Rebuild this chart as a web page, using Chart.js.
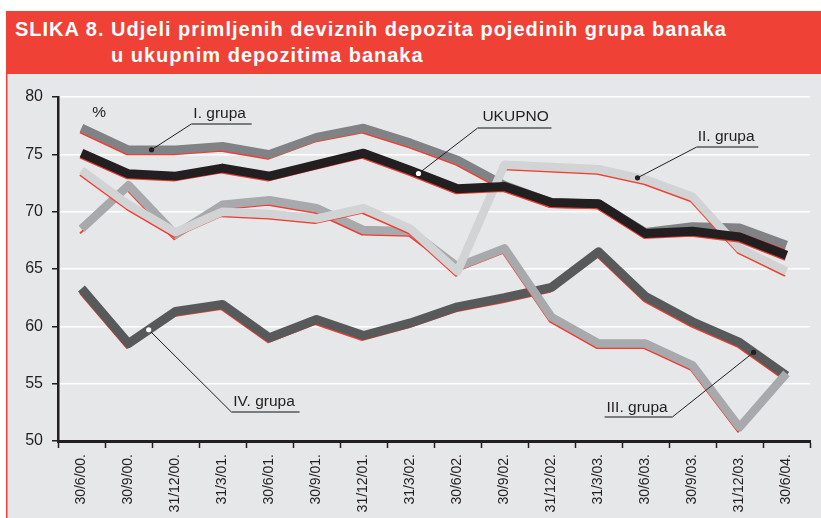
<!DOCTYPE html>
<html>
<head>
<meta charset="utf-8">
<script src="https://cdn.jsdelivr.net/npm/chart.js@4"></script>
<style>
  body { margin: 0; width: 821px; height: 518px; background: #fff; position: relative; overflow: hidden;
         font-family: "Liberation Sans", Arial, sans-serif; }
  #banner { position: absolute; left: 6px; top: 11px; width: 815px; height: 63px; background: #ef4136;
            color: #fff; font-weight: bold; font-size: 20px; letter-spacing: 1px; }
  #banner span { position: absolute; white-space: nowrap; line-height: 1; }
  #panel { position: absolute; left: 6px; top: 74px; width: 815px; height: 444px; background: #e6e7e8;
           box-shadow: inset 1.5px 0 0 #ef4136; }
  #chart { position: absolute; left: 7px; top: 75px; }
</style>
</head>
<body>
<div id="banner">
  <span style="left:9px; top:8px;">SLIKA 8. Udjeli primljenih deviznih depozita pojedinih grupa banaka</span>
  <span style="left:105px; top:34px;">u ukupnim depozitima banaka</span>
</div>
<div id="panel"></div>
<canvas id="chart" width="814" height="443"></canvas>

<script>
// dates on the x axis (no 31/3/04. in the source)
const labels = ['30/6/00.', '30/9/00.', '31/12/00.', '31/3/01.', '30/6/01.', '30/9/01.', '31/12/01.', '31/3/02.',
                '30/6/02.', '30/9/02.', '31/12/02.', '31/3/03.', '30/6/03.', '30/9/03.', '31/12/03.', '30/6/04.'];

// shares in %
const grupa1 = [77.3, 75.4, 75.4, 75.7, 75.0, 76.5, 77.3, 76.0, 74.5, 72.3, 70.8, 70.7, 68.2, 68.7, 68.6, 67.1];
const ukupno = [75.1, 73.3, 73.1, 73.8, 73.1, 74.1, 75.1, 73.6, 72.0, 72.2, 70.8, 70.7, 68.1, 68.3, 67.8, 66.2];
const grupa2 = [73.6, 70.6, 68.2, 70.0, 69.8, 69.4, 70.3, 68.5, 64.8, 74.1, 73.9, 73.7, 72.8, 71.3, 66.8, 64.8];
const grupa3 = [68.5, 72.3, 68.0, 70.6, 71.0, 70.3, 68.4, 68.3, 65.2, 66.8, 60.8, 58.5, 58.5, 56.6, 51.2, 55.9];
const grupa4 = [63.3, 58.5, 61.3, 61.9, 59.0, 60.6, 59.2, 60.3, 61.7, 62.5, 63.4, 66.5, 62.6, 60.4, 58.6, 55.7];

const yTicks = [50, 55, 60, 65, 70, 75, 80];

const RED = '#ef3e33';
const INK = '#231f20';

// one thick grey line with a thin red edge below it, per series
function pair(data, color, width, order) {
  return [
    { data: data, borderColor: color, borderWidth: width, order: order },
    { data: data, borderColor: RED, borderWidth: 2, order: order + 1, shadow: true }
  ];
}

// label callouts: text, underline and leader to a dot on a line (x in category steps, y in %)
const notes = [
  { text: 'I. grupa',   tx: 2.38,  ty: 78.5, u0: 2.34,  u1: 3.62,  uy: 77.65, from: 'left',  dotT: 1.49,  line: grupa1, dot: INK },
  { text: 'UKUPNO',     tx: 8.53,  ty: 78.26, u0: 8.43, u1: 10.0,  uy: 77.3,  from: 'left',  dotT: 7.17,  line: ukupno, dot: '#fff' },
  { text: 'II. grupa',  tx: 13.11, ty: 76.51, u0: 13.09, u1: 14.4, uy: 75.64, from: 'left',  dotT: 11.83, line: grupa2, dot: INK },
  { text: 'III. grupa', tx: 11.17, ty: 52.88, u0: 11.13, u1: 12.57, uy: 52.09, from: 'right', dotT: 14.3,  line: grupa4, dot: INK },
  { text: 'IV. grupa',  tx: 3.23,  ty: 53.4, u0: 3.19,  u1: 4.64,  uy: 52.53, from: 'left',  dotT: 1.43,  line: grupa4, dot: '#fff' }
];

const shadowPlugin = {
  id: 'shadow',
  beforeDatasetDraw(chart, args) {
    if (args.meta._dataset.shadow) {
      chart.ctx.save();
      chart.ctx.translate(-1.5, 4.5);
    }
  },
  afterDatasetDraw(chart, args) {
    if (args.meta._dataset.shadow) chart.ctx.restore();
  }
};

const notesPlugin = {
  id: 'notes',
  afterDraw(chart) {
    const ctx = chart.ctx;
    const xs = chart.scales.x, ys = chart.scales.y;
    const x0 = xs.getPixelForValue(0), step = xs.getPixelForValue(1) - x0;
    const px = t => x0 + t * step;
    const py = v => ys.getPixelForValue(v);

    ctx.save();
    ctx.font = '15.5px "Liberation Sans", Arial, sans-serif';
    ctx.fillStyle = INK;
    ctx.textBaseline = 'middle';
    ctx.fillText('%', px(0.23), py(78.6));

    notes.forEach(n => {
      const i = Math.floor(n.dotT), f = n.dotT - i;
      const dv = n.line[i] + (n.line[i + 1] - n.line[i]) * f;
      const dx = px(n.dotT), dy = py(dv);
      const ex = n.from === 'left' ? px(n.u0) : px(n.u1);

      ctx.strokeStyle = INK;
      ctx.lineWidth = 1;
      ctx.beginPath();
      ctx.moveTo(ex, py(n.uy));
      ctx.lineTo(dx, dy);
      ctx.stroke();

      ctx.strokeStyle = '#58595b';
      ctx.lineWidth = 1.5;
      ctx.beginPath();
      ctx.moveTo(px(n.u0), py(n.uy));
      ctx.lineTo(px(n.u1), py(n.uy));
      ctx.stroke();

      ctx.fillStyle = INK;
      ctx.fillText(n.text, px(n.tx), py(n.ty));

      ctx.fillStyle = n.dot;
      ctx.beginPath();
      ctx.arc(dx, dy, 2.6, 0, Math.PI * 2);
      ctx.fill();
    });
    ctx.restore();
  }
};

new Chart(document.getElementById('chart'), {
  type: 'line',
  data: {
    labels: labels,
    datasets: [
      ...pair(ukupno, INK, 9, 0),
      ...pair(grupa2, '#d1d3d4', 8.5, 2),
      ...pair(grupa3, '#a7a9ac', 8.5, 4),
      ...pair(grupa4, '#58595b', 9, 6),
      ...pair(grupa1, '#808285', 8.5, 8)
    ]
  },
  options: {
    responsive: false,
    animation: false,
    layout: { padding: { top: 22, right: 11, left: 0, bottom: 0 } },
    plugins: { legend: { display: false }, tooltip: { enabled: false } },
    elements: {
      point: { radius: 0 },
      line: { tension: 0, borderJoinStyle: 'round', borderCapStyle: 'butt', fill: false }
    },
    scales: {
      x: {
        offset: true,
        grid: { offset: true, drawOnChartArea: false, tickLength: 7, tickColor: INK, tickWidth: 1.5 },
        border: { color: INK, width: 3 },
        ticks: { color: INK, font: { family: '"Liberation Sans", Arial', size: 14 },
                 minRotation: 90, maxRotation: 90, autoSkip: false, padding: 6 },
        afterFit: s => { s.height = 77; }
      },
      y: {
        min: 50, max: 80,
        afterBuildTicks: s => { s.ticks = yTicks.map(v => ({ value: v })); },
        grid: { color: '#ffffff', lineWidth: 1.5, tickLength: 6, tickColor: INK, tickWidth: 1.5 },
        border: { color: INK, width: 2.5 },
        ticks: { color: INK, font: { family: '"Liberation Sans", Arial', size: 16 }, padding: 9 },
        afterFit: s => { s.width = 51; }
      }
    }
  },
  plugins: [shadowPlugin, notesPlugin]
});
</script>
</body>
</html>
